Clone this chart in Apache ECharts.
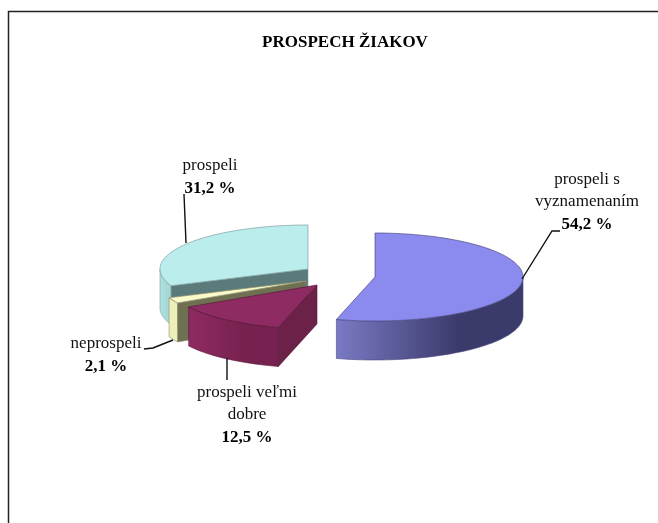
<!DOCTYPE html>
<html>
<head>
<meta charset="utf-8">
<title>Prospech ziakov</title>
<style>
html,body{margin:0;padding:0;background:#fff;}
#chart{width:658px;height:523px;}
</style>
<script src="https://cdn.jsdelivr.net/npm/echarts@6/dist/echarts.min.js"></script>
</head>
<body>
<div id="chart"></div>
<script>
// data, clockwise from 12 o'clock
var categories = ['prospeli s\nvyznamenaním', 'prospeli veľmi\ndobre', 'neprospeli', 'prospeli'];
var values = [54.2, 12.5, 2.1, 31.2];
var chartTitle = 'PROSPECH ŽIAKOV';

// look of the slices
var topColors = ['#8b8bef', '#8e2b62', '#fbfbc9', '#bbeded'];
var rimFrom = ['#7a7ac6', '#8f2b62', '#eeeebb', '#b0e2e2'];
var rimTo = ['#3b3b6b', '#76214f', '#eeeebb', '#a6d8d8'];
var cutColors = ['#3b3b6b', '#6c2149', '#6f6f52', '#5b7b7b'];
var edgeColors = ['#4a4a80', '#5a1a3c', '#8f8f70', '#7f9f9f'];

// 3d pie layout
var origins = [[375, 277], [317, 285], [306, 281], [308, 269]];
var labelPos = [[587, 203], [247, 416], [106, 356], [210, 178]];
var rx = 148, ry = 44, depth = 39;

var rad = Math.PI / 180;
var starts = [], sum = 0;
for (var i = 0; i < values.length; i++) {
    starts.push(sum * 3.6);
    sum += values[i];
}

function pt(o, deg, dy) {
    return [o[0] + rx * Math.sin(deg * rad), o[1] - ry * Math.cos(deg * rad) + (dy || 0)];
}
function arc(o, a0, a1, dy) {
    var pts = [], n = Math.max(2, Math.ceil((a1 - a0) / 2));
    for (var k = 0; k <= n; k++) {
        pts.push(pt(o, a0 + (a1 - a0) * k / n, dy));
    }
    return pts;
}

function renderSlice(params, api) {
    var idx = api.value(0);
    var a0 = starts[idx];
    var a1 = a0 + api.value(1) * 3.6;
    var o = origins[idx];
    var children = [];

    // outer rim, only the front half can be seen
    var r0 = Math.max(a0, 90), r1 = Math.min(a1, 270);
    if (r1 > r0) {
        var rim = arc(o, r0, r1, 0).concat(arc(o, r0, r1, depth).reverse());
        var fill = new echarts.graphic.LinearGradient(0, 0, 1, 0, [
            {offset: 0, color: rimFrom[idx]},
            {offset: 0.65, color: rimTo[idx]},
            {offset: 1, color: rimTo[idx]}
        ]);
        children.push({
            type: 'polygon',
            shape: {points: rim},
            style: {fill: fill, stroke: edgeColors[idx], lineWidth: 0.6}
        });
    }
    // cut face
    if (a0 > 180) {
        var p = pt(o, a0);
        children.push({
            type: 'polygon',
            shape: {points: [o, p, [p[0], p[1] + depth], [o[0], o[1] + depth]]},
            style: {fill: cutColors[idx], stroke: edgeColors[idx], lineWidth: 0.6}
        });
    }
    // top
    children.push({
        type: 'polygon',
        shape: {points: [o].concat(arc(o, a0, a1, 0))},
        style: {fill: topColors[idx], stroke: edgeColors[idx], lineWidth: 0.7}
    });
    // label
    var val = api.value(1).toFixed(1).replace('.', ',') + ' %';
    children.push({
        type: 'text',
        style: {
            x: labelPos[idx][0],
            y: labelPos[idx][1],
            text: '{n|' + categories[idx].replace('\n', '}\n{n|') + '}\n{v|' + val + '}',
            align: 'center',
            verticalAlign: 'middle',
            rich: {
                n: {fontFamily: 'Liberation Serif', fontSize: 17, lineHeight: 22, fill: '#111', align: 'center'},
                v: {fontFamily: 'Liberation Serif', fontSize: 17, lineHeight: 24, fontWeight: 'bold', fill: '#000', align: 'center'}
            }
        }
    });
    return {type: 'group', children: children};
}

var seriesData = [];
for (var j = values.length - 1; j >= 0; j--) {
    seriesData.push([j, values[j]]);
}

function leader(points) {
    return {
        type: 'polyline',
        shape: {points: points},
        style: {stroke: '#111', lineWidth: 1.4, fill: null},
        z: 10
    };
}

var myChart = echarts.init(document.getElementById('chart'));
myChart.setOption({
    backgroundColor: '#fff',
    animation: false,
    title: {
        text: chartTitle,
        left: 340,
        top: 29,
        textAlign: 'center',
        textStyle: {fontFamily: 'Liberation Serif', fontSize: 17, fontWeight: 'bold', color: '#000'}
    },
    graphic: [
        {
            type: 'polyline',
            shape: {points: [[8.5, 523], [8.5, 11.5], [658, 11.5]]},
            style: {stroke: '#222', lineWidth: 1.5, fill: null}
        },
        leader([[184, 194], [186, 243]]),
        leader([[522, 279], [552, 231], [560, 231]]),
        leader([[144, 349], [153, 348], [173, 340]]),
        leader([[227, 358], [227, 380]])
    ],
    series: [{
        type: 'custom',
        coordinateSystem: 'none',
        renderItem: renderSlice,
        data: seriesData
    }]
});
</script>
</body>
</html>
